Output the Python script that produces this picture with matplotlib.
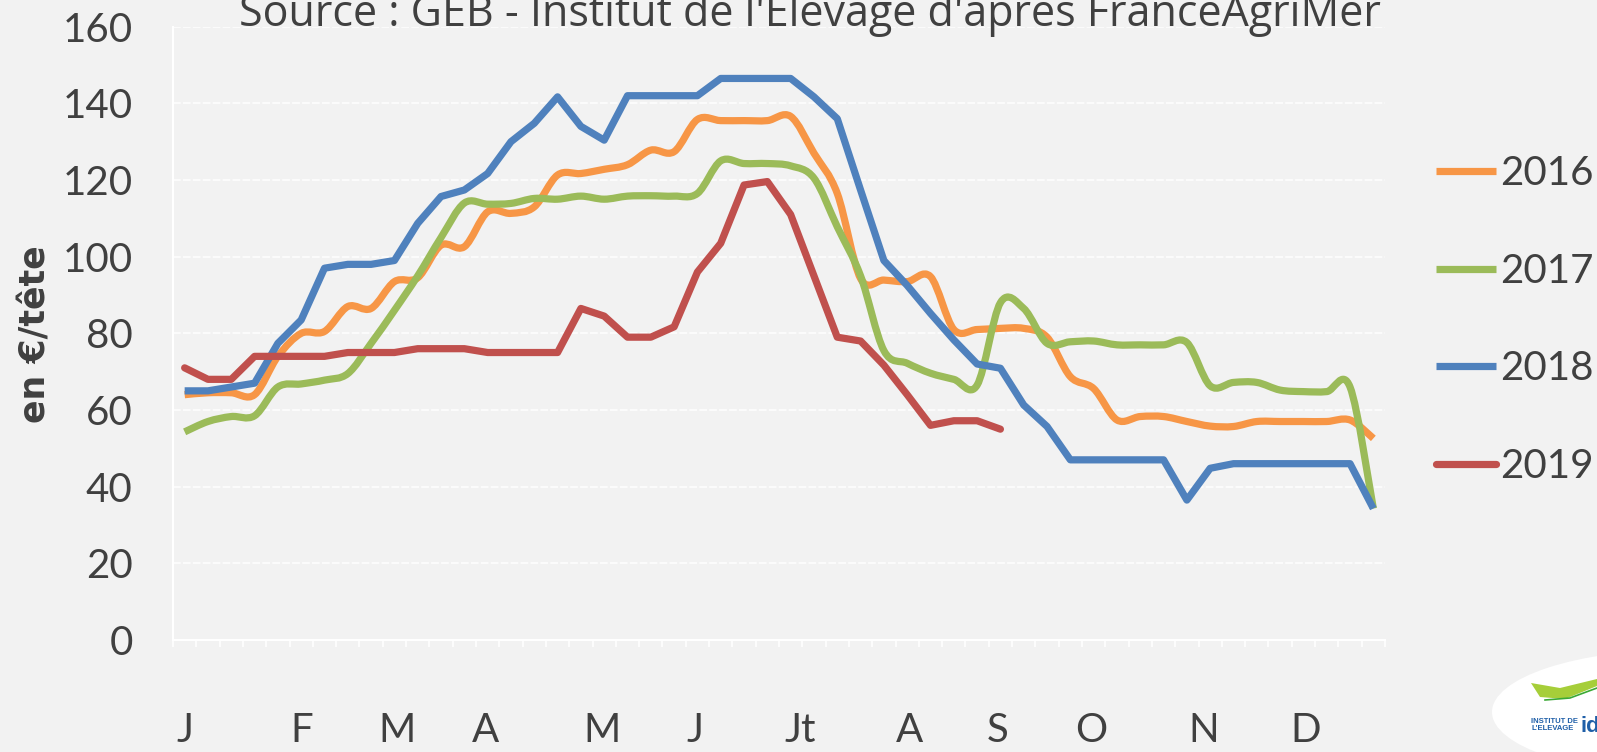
import matplotlib
matplotlib.use('Agg')
import matplotlib.pyplot as plt
import numpy as np
from matplotlib.path import Path
from matplotlib.patches import PathPatch, Ellipse, Polygon
from matplotlib.lines import Line2D
import matplotlib.transforms as mtransforms

# weekly prices (EUR / head), week 1..52
prix_2016 = [64, 64.5, 64.5, 64, 74, 80, 80.5, 87, 86.5, 93.5, 94.5, 103, 102.6,
             111.7, 111.3, 113, 121.3, 121.7, 122.8, 124, 127.8, 127.4, 135.8,
             135.5, 135.5, 135.5, 136.6, 127, 116.5, 94.3, 93.9, 93.5, 94.8, 81,
             81, 81.3, 81.3, 79, 68.7, 65.6, 57.4, 58.3, 58.3, 57, 55.8, 55.7,
             57, 57, 57, 57, 57.4, 52.6]
prix_2017 = [54.3, 57, 58.3, 58.5, 66, 66.8, 67.8, 69.5, 77.4, 86, 95, 105, 114,
             113.7, 113.9, 115.2, 115, 115.8, 115, 115.8, 115.9, 115.8, 116.5,
             125, 124.3, 124.3, 123.7, 120.5, 107.8, 95, 75.5, 72.2, 69.6, 68,
             66.5, 88, 86.5, 77.4, 77.8, 78, 77, 77, 77, 77.6, 66.3, 67.2, 67.2,
             65.2, 64.8, 64.8, 66, 34.3]
prix_2018 = [65, 65, 66, 67, 77.4, 83.5, 97, 98, 98, 99, 108.7, 115.7, 117.4,
             121.7, 130, 134.8, 141.7, 134, 130.4, 142, 142, 142, 142, 146.5,
             146.5, 146.5, 146.5, 141.7, 136, 117.4, 99, 92.5, 85.2, 78.3, 72,
             70.9, 61.3, 55.7, 47, 47, 47, 47, 47, 36.5, 44.8, 46, 46, 46, 46,
             46, 46, 34.3]
prix_2019 = [71, 68, 68, 74, 74, 74, 74, 75, 75, 75, 76, 76, 76, 75, 75, 75, 75,
             86.5, 84.5, 79, 79, 81.7, 96, 103.5, 118.7, 119.6, 111, 95, 79, 78,
             71.7, 64, 56, 57.2, 57.2, 55]

mois = ['J', 'F', 'M', 'A', 'M', 'J', 'Jt', 'A', 'S', 'O', 'N', 'D']
mois_pos = [0, 5, 9.1, 12.9, 17.9, 21.9, 26.4, 31.1, 34.9, 38.9, 43.7, 48.1]

BG = '#f2f2f2'
TXT = '#404040'
FONT = ['Lato', 'DejaVu Sans']

plt.rcParams['font.family'] = FONT

fig = plt.figure(figsize=(15.97, 7.52), dpi=100, facecolor=BG)
ax = fig.add_axes([173 / 1597, 112 / 752, 1212 / 1597, 613.3 / 752], facecolor=BG)


def smooth_line(ax, y, **kw):
    # Excel-like smoothed line: cubic Bezier through the weekly points
    x = np.arange(len(y), dtype=float)
    y = np.asarray(y, dtype=float)
    n = len(y)
    verts = [(x[0], y[0])]
    codes = [Path.MOVETO]
    for i in range(n - 1):
        xa, ya = (x[i - 1], y[i - 1]) if i > 0 else (x[i], y[i])
        xb, yb = (x[i + 2], y[i + 2]) if i + 2 < n else (x[i + 1], y[i + 1])
        c1 = (x[i] + (x[i + 1] - xa) / 6, y[i] + (y[i + 1] - ya) / 6)
        c2 = (x[i + 1] - (xb - x[i]) / 6, y[i + 1] - (yb - y[i]) / 6)
        verts += [c1, c2, (x[i + 1], y[i + 1])]
        codes += [Path.CURVE4] * 3
    patch = PathPatch(Path(verts, codes), fill=False, **kw)
    ax.add_patch(patch)


LW = 5.2
smooth_line(ax, prix_2016, edgecolor='#f79646', linewidth=LW, capstyle='butt',
            joinstyle='round', zorder=3)
smooth_line(ax, prix_2017, edgecolor='#9bbb59', linewidth=LW, capstyle='butt',
            joinstyle='round', zorder=4)
ax.plot(np.arange(len(prix_2018)), prix_2018, color='#4f81bd', lw=LW,
        solid_capstyle='butt', solid_joinstyle='round', zorder=5)
ax.plot(np.arange(len(prix_2019)), prix_2019, color='#c0504d', lw=LW,
        solid_capstyle='round', solid_joinstyle='round', zorder=6)

ax.set_xlim(-0.5, 51.5)
ax.set_ylim(0, 160)
ax.set_yticks(range(0, 161, 20))
ax.set_xticks([])
ax.set_xticks(np.arange(-0.5, 52, 1), minor=True)
ax.tick_params(axis='x', which='minor', direction='out', length=5,
               color='white', width=1.2)
ax.tick_params(axis='y', length=0, pad=29, labelsize=29, labelcolor=TXT)
ax.grid(axis='y', color='white', linewidth=1.1, linestyle=(0, (5, 1.5)))
ax.set_axisbelow(True)
for s in ['top', 'right']:
    ax.spines[s].set_visible(False)
for s in ['left', 'bottom']:
    ax.spines[s].set_color('white')
    ax.spines[s].set_linewidth(1.5)

# month labels under the weekly axis
trans = mtransforms.blended_transform_factory(ax.transData, ax.transAxes)
for m, p in zip(mois, mois_pos):
    ax.text(p, -0.148, m, transform=trans, ha='center', va='center',
            fontsize=29, color=TXT, clip_on=False)

# title sits partly above the top edge, as in the source slide
fig.text(810 / 1597, 1 - 26 / 752,
         "Source : GEB - Institut de l'Elevage d'après FranceAgriMer",
         ha='center', va='baseline', fontsize=31, color=TXT,
         family=['Open Sans', 'DejaVu Sans'])
fig.text(36 / 1597, 1 - 334 / 752, 'en €/tête', rotation=90, ha='center',
         va='center', fontsize=25, fontweight='bold', color=TXT,
         family=['DejaVu Sans'])

handles = [Line2D([], [], color='#f79646', lw=LW, solid_capstyle='butt'),
           Line2D([], [], color='#9bbb59', lw=LW, solid_capstyle='butt'),
           Line2D([], [], color='#4f81bd', lw=LW, solid_capstyle='butt'),
           Line2D([], [], color='#c0504d', lw=LW, solid_capstyle='round')]
leg = fig.legend(handles, ['2016', '2017', '2018', '2019'], loc='center left',
                 bbox_to_anchor=(1436 / 1597, 1 - 320 / 752), frameon=False,
                 fontsize=29, handlelength=1.5, handletextpad=0.08,
                 labelspacing=1.5, borderpad=0, borderaxespad=0)
for t in leg.get_texts():
    t.set_color(TXT)

# logo corner (white leaf + institute name)
deco = fig.add_axes([0, 0, 1, 1], facecolor='none', zorder=-1)
deco.set_xlim(0, 1597)
deco.set_ylim(752, 0)
deco.axis('off')
deco.add_patch(Ellipse((1682, 712), 380, 125, facecolor='white',
                       edgecolor='none'))
deco.add_patch(Polygon([(1531, 683), (1560, 688), (1597, 679), (1597, 686),
                        (1565, 699), (1540, 697)], closed=True,
                       facecolor='#a6ce39', edgecolor='none'))
deco.plot([1545, 1570, 1597], [700, 698, 688], color='#3aa935', lw=1.2)
deco.text(1531, 725, "INSTITUT DE\nL'ELEVAGE", fontsize=5.5, color='#1f5fa8',
          fontweight='bold', va='center', ha='left', linespacing=1.0,
          family=['Liberation Sans', 'DejaVu Sans'])
deco.text(1581, 726, 'id', fontsize=16, color='#1f5fa8', fontweight='bold',
          va='center', ha='left', family=['Liberation Sans', 'DejaVu Sans'])

fig.savefig('out.png', dpi=100, facecolor=BG)
